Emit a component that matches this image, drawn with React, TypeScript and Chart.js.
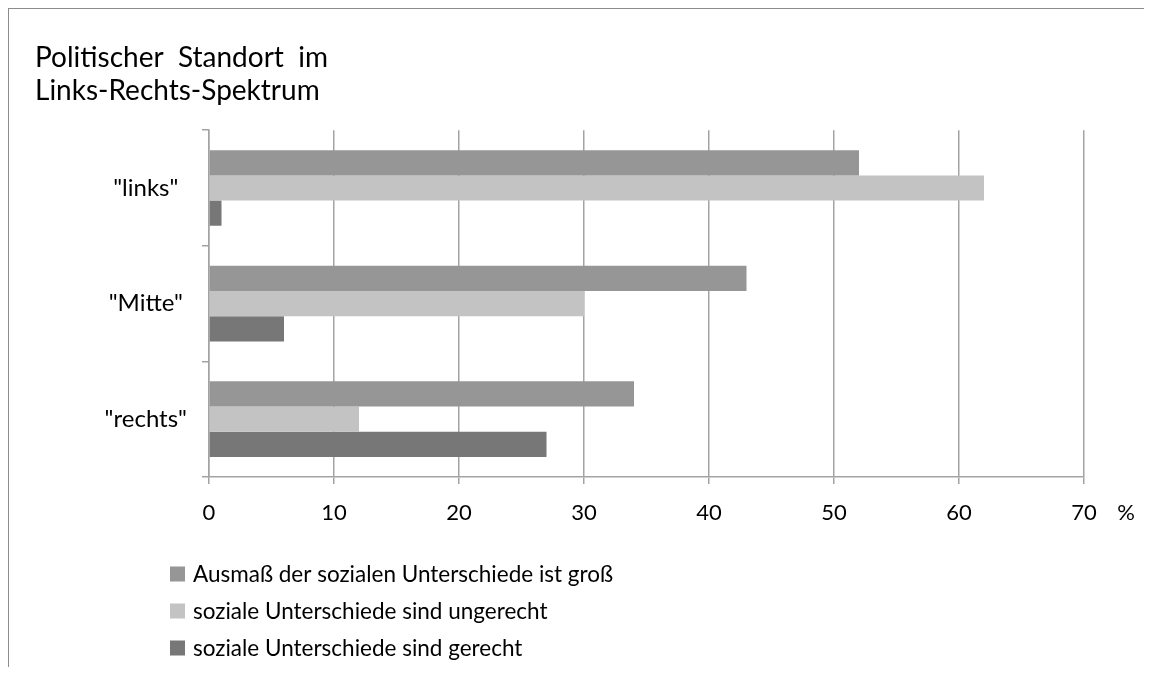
import React, { useEffect, useRef } from "react";
import { Chart, registerables } from "chart.js";

Chart.register(...registerables);

// ---- data ----
const categories = ['"links"', '"Mitte"', '"rechts"'];
const seriesNames = [
  "Ausmaß der sozialen Unterschiede ist groß",
  "soziale Unterschiede sind ungerecht",
  "soziale Unterschiede sind gerecht",
];
const grossValues = [52, 43, 34];
const ungerechtValues = [62, 30, 12];
const gerechtValues = [1, 6, 27];
const xMin = 0;
const xMax = 70;
const xStep = 10;
const titleLines = ["Politischer  Standort  im", "Links-Rechts-Spektrum"];
const unitLabel = "%";

// ---- styles ----
const seriesColors = ["#969696", "#c3c3c3", "#777777"];
const gridColor = "#a3a3a3";
const FONT = "Lato";
const CANVAS_W = 1142;
const CANVAS_H = 658;

const extrasPlugin = {
  id: "extras",
  afterDraw(chart: any) {
    const { ctx, chartArea, scales } = chart;
    ctx.save();
    // unit label next to the last x tick
    const xs = scales.x;
    const lastX = xs.getPixelForValue(xMax);
    ctx.fillStyle = "#000";
    ctx.font = `22px ${FONT}`;
    ctx.textAlign = "center";
    ctx.textBaseline = "middle";
    ctx.fillText(unitLabel, lastX + 42, chartArea.bottom + 36);
    // legend (one entry per line)
    const lx = chartArea.left - 39;
    ctx.font = `22.5px ${FONT}`;
    ctx.textAlign = "left";
    seriesNames.forEach((name, i) => {
      const cy = chartArea.bottom + 97 + i * 37;
      ctx.fillStyle = seriesColors[i];
      ctx.fillRect(lx, cy - 7.5, 15, 15);
      ctx.fillStyle = "#000";
      ctx.fillText(name, lx + 23, cy + 1);
    });
    ctx.restore();
  },
};

export default function App() {
  const ref = useRef<HTMLCanvasElement | null>(null);

  useEffect(() => {
    document.body.style.overflow = "hidden";
    const canvas = ref.current;
    if (!canvas) return;
    const chart = new Chart(canvas, {
      type: "bar",
      data: {
        labels: categories,
        datasets: [
          { label: seriesNames[0], data: grossValues, backgroundColor: seriesColors[0] },
          { label: seriesNames[1], data: ungerechtValues, backgroundColor: seriesColors[1] },
          { label: seriesNames[2], data: gerechtValues, backgroundColor: seriesColors[2] },
        ],
      },
      options: {
        indexAxis: "y",
        animation: false,
        responsive: false,
        devicePixelRatio: 1,
        layout: { padding: { left: 26, right: 67, top: 0, bottom: 120 } },
        datasets: {
          bar: { categoryPercentage: 0.655, barPercentage: 1.0, borderWidth: 0 },
        },
        scales: {
          x: {
            type: "linear",
            min: xMin,
            max: xMax,
            ticks: {
              stepSize: xStep,
              color: "#000",
              padding: 16,
              font: { family: FONT, size: 22 },
            },
            grid: { color: gridColor, lineWidth: 1.5, tickLength: 7, drawTicks: true },
            border: { color: gridColor, width: 1.5 },
            afterFit(scale: any) {
              scale.height = 70;
            },
          },
          y: {
            type: "category",
            offset: true,
            ticks: {
              color: "#000",
              crossAlign: "center",
              padding: 15,
              font: { family: FONT, size: 24 },
            },
            grid: {
              offset: true,
              drawOnChartArea: false,
              drawTicks: true,
              tickLength: 7,
              color: gridColor,
              lineWidth: 1.5,
            },
            border: { color: gridColor, width: 1.5 },
            afterFit(scale: any) {
              scale.width = 174;
            },
          },
        },
        plugins: {
          legend: { display: false },
          tooltip: { enabled: false },
          title: {
            display: true,
            text: titleLines,
            align: "start",
            color: "#000",
            font: { family: FONT, size: 28, weight: "normal", lineHeight: 1.2 },
            padding: { top: 32, bottom: 22 },
          },
        },
      },
      plugins: [extrasPlugin],
    });
    return () => chart.destroy();
  }, []);

  return (
    <div
      style={{
        width: CANVAS_W,
        height: CANVAS_H,
        borderTop: "1px solid #8c8c8c",
        borderLeft: "1px solid #8c8c8c",
        borderRight: "1px solid #8c8c8c",
        background: "#fff",
      }}
    >
      <canvas ref={ref} width={CANVAS_W} height={CANVAS_H} style={{ display: "block" }} />
    </div>
  );
}
